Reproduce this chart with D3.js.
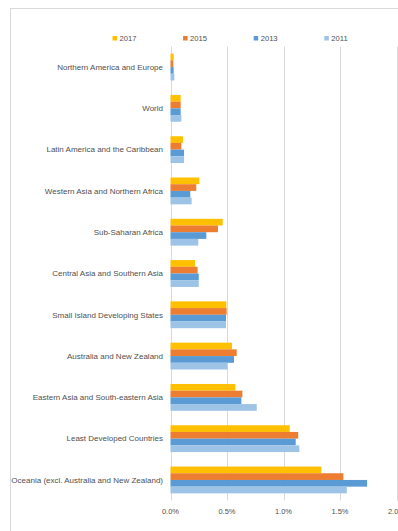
<!DOCTYPE html>
<html>
<head>
<meta charset="utf-8">
<script src="https://cdn.jsdelivr.net/npm/d3@7"></script>
<style>
  html, body { margin: 0; padding: 0; background: #fff; }
  svg { display: block; }
  text { font-family: "Liberation Sans", Arial, sans-serif; fill: #505050; }
</style>
</head>
<body>
<svg id="chart" width="398" height="531"></svg>
<script>
// Regions, listed top to bottom as drawn
const categories = [
  "Northern America and Europe",
  "World",
  "Latin America and the Caribbean",
  "Western Asia and Northern Africa",
  "Sub-Saharan Africa",
  "Central Asia and Southern Asia",
  "Small Island Developing States",
  "Australia and New Zealand",
  "Eastern Asia and South-eastern Asia",
  "Least Developed Countries",
  "Oceania (excl. Australia and New Zealand)"
];

const seriesNames = ["2017", "2015", "2013", "2011"];

// Values in percent, one array per year, in category order
const values2017 = [0.028, 0.09, 0.11, 0.255, 0.462, 0.217, 0.494, 0.544, 0.574, 1.055, 1.335];
const values2015 = [0.025, 0.09, 0.096, 0.228, 0.42, 0.24, 0.497, 0.586, 0.636, 1.13, 1.53];
const values2013 = [0.028, 0.09, 0.12, 0.175, 0.317, 0.25, 0.491, 0.562, 0.627, 1.108, 1.74];
const values2011 = [0.034, 0.096, 0.12, 0.187, 0.246, 0.25, 0.491, 0.503, 0.763, 1.14, 1.56];

const tickValues = [0, 0.5, 1.0, 1.5, 2.0];
const tickLabels = ["0.0%", "0.5%", "1.0%", "1.5%", "2.0%"];

const seriesValues = { "2017": values2017, "2015": values2015, "2013": values2013, "2011": values2011 };
const colors = { "2017": "#FFC000", "2015": "#ED7D31", "2013": "#5B9BD5", "2011": "#9DC3E6" };

const svg = d3.select("#chart");

// Chart frame
svg.append("rect")
  .attr("x", 10.5).attr("y", 8.5)
  .attr("width", 420).attr("height", 540)
  .attr("fill", "#fff")
  .attr("stroke", "#d9d9d9")
  .attr("stroke-width", 1);

const x = d3.scaleLinear().domain([0, 2]).range([170.5, 396.5]);
const y0 = d3.scaleBand().domain(categories).range([46.4, 500.6]).padding(0);
const y1 = d3.scaleBand().domain(seriesNames).range([0, y0.bandwidth()])
  .paddingInner(0).paddingOuter(1.08);

// Vertical gridlines
svg.append("g")
  .selectAll("line")
  .data(tickValues)
  .join("line")
  .attr("x1", d => Math.round(x(d)) + 0.5)
  .attr("x2", d => Math.round(x(d)) + 0.5)
  .attr("y1", 46.5)
  .attr("y2", 500.5)
  .attr("stroke", "#d9d9d9")
  .attr("stroke-width", 1);

// Bars
const groups = svg.append("g")
  .selectAll("g")
  .data(categories)
  .join("g")
  .attr("transform", d => `translate(0,${y0(d)})`);

groups.selectAll("rect")
  .data((c, i) => seriesNames.map(s => ({ s, v: seriesValues[s][i] })))
  .join("rect")
  .attr("x", x(0))
  .attr("y", d => y1(d.s))
  .attr("width", d => x(d.v) - x(0))
  .attr("height", y1.bandwidth())
  .attr("fill", d => colors[d.s]);

// Category labels
svg.append("g")
  .selectAll("text")
  .data(categories)
  .join("text")
  .attr("x", 163)
  .attr("y", d => y0(d) + y0.bandwidth() / 2)
  .attr("dy", "0.35em")
  .attr("text-anchor", "end")
  .attr("font-size", "8px")
  .text(d => d);

// X axis tick labels
svg.append("g")
  .selectAll("text")
  .data(tickValues)
  .join("text")
  .attr("x", d => x(d))
  .attr("y", 511)
  .attr("dy", "0.35em")
  .attr("text-anchor", "middle")
  .attr("font-size", "7.5px")
  .text((d, i) => tickLabels[i]);

// Legend
const legend = svg.append("g")
  .selectAll("g")
  .data(seriesNames)
  .join("g")
  .attr("transform", (d, i) => `translate(${112.5 + i * 70.6},38.5)`);

legend.append("rect")
  .attr("x", 0).attr("y", -2.5)
  .attr("width", 4.5).attr("height", 4.5)
  .attr("fill", d => colors[d]);

legend.append("text")
  .attr("x", 7)
  .attr("y", 0)
  .attr("dy", "0.35em")
  .attr("font-size", "7.6px")
  .text(d => d);
</script>
</body>
</html>
